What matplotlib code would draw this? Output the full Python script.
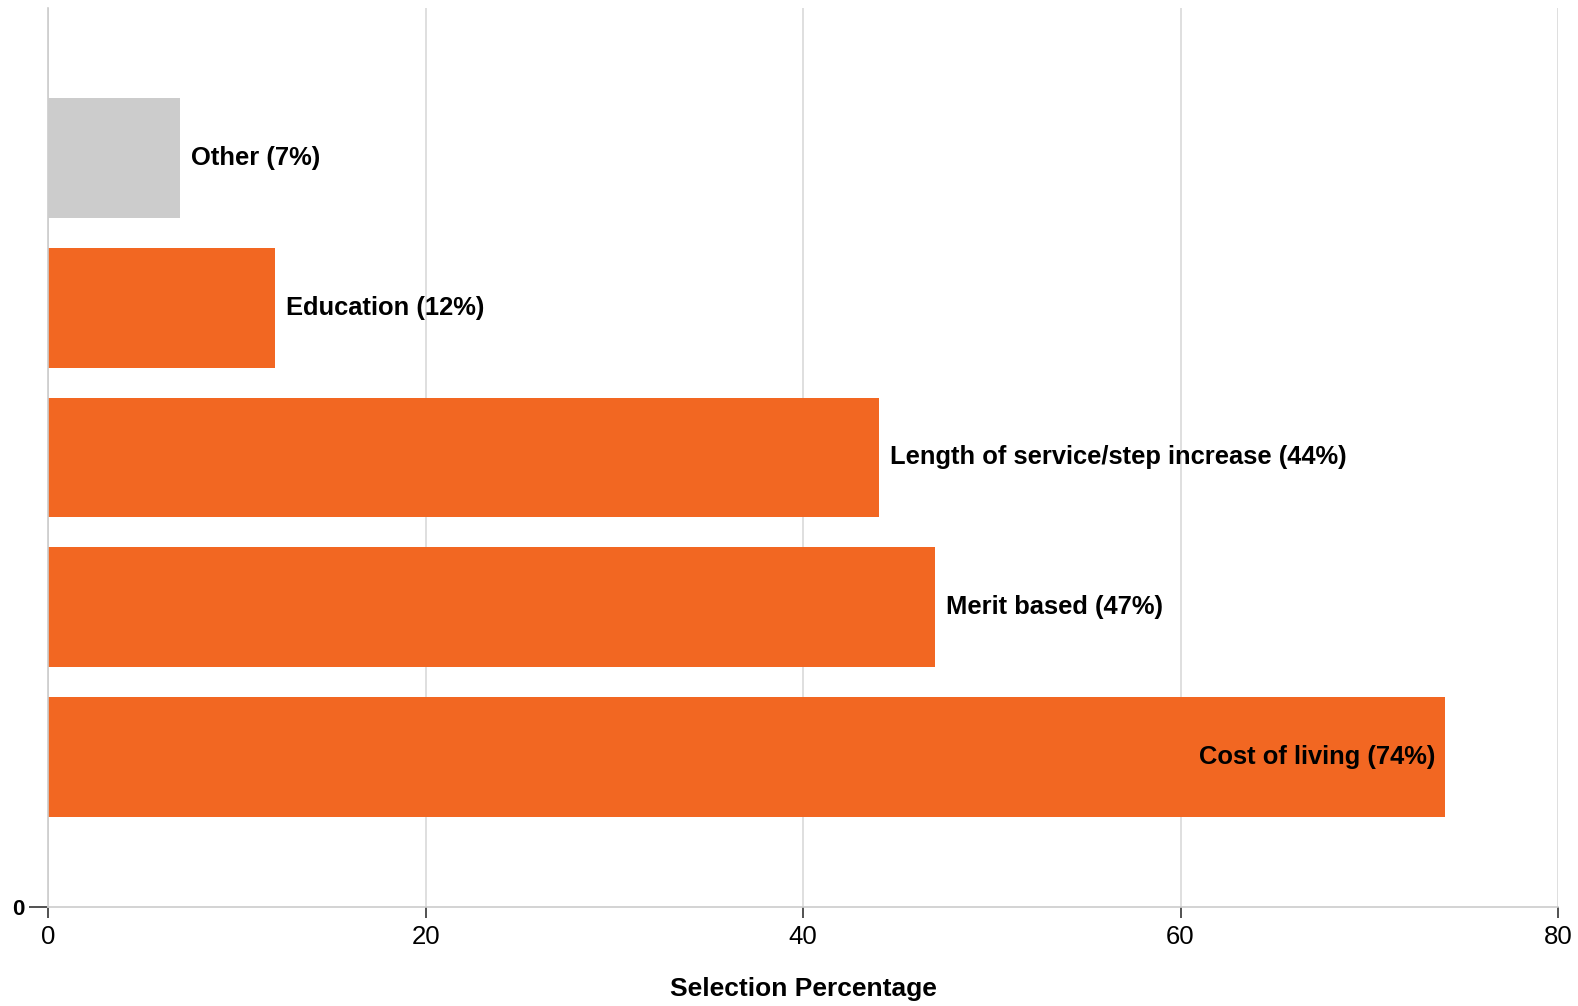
import matplotlib.pyplot as plt

plt.rcParams['font.family'] = ['Liberation Sans', 'DejaVu Sans']

categories = ['Cost of living', 'Merit based', 'Length of service/step increase',
              'Education', 'Other']
values = [74, 47, 44, 12, 7]
colors = ['#F26722', '#F26722', '#F26722', '#F26722', '#CCCCCC']
xticks = [0, 20, 40, 60, 80]

fig = plt.figure(figsize=(15.78, 10.06), dpi=100)
ax = fig.add_axes([0.0306, 0.0986, 0.9567, 0.8934])

pos = list(range(1, len(values) + 1))
ax.barh(pos, values, height=0.8, color=colors, zorder=2)

for p, v, c in zip(pos, values, categories):
    label = f'{c} ({v}%)'
    if v == max(values):
        ax.annotate(label, (v, p), xytext=(-7, 0), textcoords='offset points',
                    ha='right', va='center', fontsize=18.4, fontweight='bold', zorder=3)
    else:
        ax.annotate(label, (v, p), xytext=(8, 0), textcoords='offset points',
                    ha='left', va='center', fontsize=18.4, fontweight='bold', zorder=3)

ax.set_xlim(0, 80)
ax.set_ylim(0, 6)
ax.set_xticks(xticks)
ax.set_yticks([0])
ax.set_yticklabels(['0'], fontweight='bold')
ax.tick_params(axis='x', labelsize=18.5, length=8, width=1.2, color='#333333', pad=5)
ax.tick_params(axis='y', labelsize=16, length=14, width=1.2, color='#333333', pad=3)
ax.xaxis.grid(True, color='#d9d9d9', linewidth=1.2, zorder=0)

for s in ['top', 'right']:
    ax.spines[s].set_visible(False)
for s in ['left', 'bottom']:
    ax.spines[s].set_color('#cccccc')
    ax.spines[s].set_linewidth(1.2)

ax.set_xlabel('Selection Percentage', fontsize=19, fontweight='bold', labelpad=20)

fig.savefig('out.png', dpi=100)
